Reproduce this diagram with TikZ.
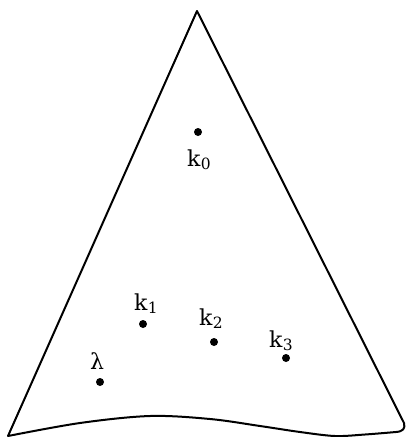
\documentclass[tikz,border=0pt]{standalone}
\usepackage{fontspec}
\newfontfamily\labfont{DejaVu Serif}
\newcommand{\klab}[1]{k\kern0.3pt\raisebox{-3.5pt}{\fontsize{15.5}{16}\selectfont #1}}
\begin{document}
\begin{tikzpicture}[x=1pt,y=-1pt,
  pt/.style={circle,fill=black,inner sep=0pt,minimum size=8pt},
  lbl/.style={inner sep=0pt,anchor=base west,font=\labfont\fontsize{22}{26}\selectfont},
  edge/.style={line width=2pt,line join=round,line cap=round}]
\useasboundingbox (0,0) rectangle (408,437);
\coordinate (apex) at (197,11);
\coordinate (bl) at (8,436);
\coordinate (br) at (404,423);
\draw[edge] (bl) -- (apex) -- (br) .. controls (405.5,428.5) and (403,431.5) .. (396,432)
  plot[smooth,tension=0.55] coordinates {(396,432) (365,434.5) (335,436) (300,432) (260,426) (210,419) (150,416) (80,423) (8,436)};
\node[pt] (k0) at (198,132) {};
\node[pt] (k1) at (143,324) {};
\node[pt] (k2) at (214,342) {};
\node[pt] (k3) at (286,358) {};
\node[pt] (lam) at (100,382) {};
\node[lbl] (k0l) at (187,166) {\klab{0}};
\node[lbl] (k1l) at (134,310) {\klab{1}};
\node[lbl] (k2l) at (199,325) {\klab{2}};
\node[lbl] (k3l) at (269,347) {\klab{3}};
\node[lbl] (laml) at (90,369) {λ};
\end{tikzpicture}
\end{document}
